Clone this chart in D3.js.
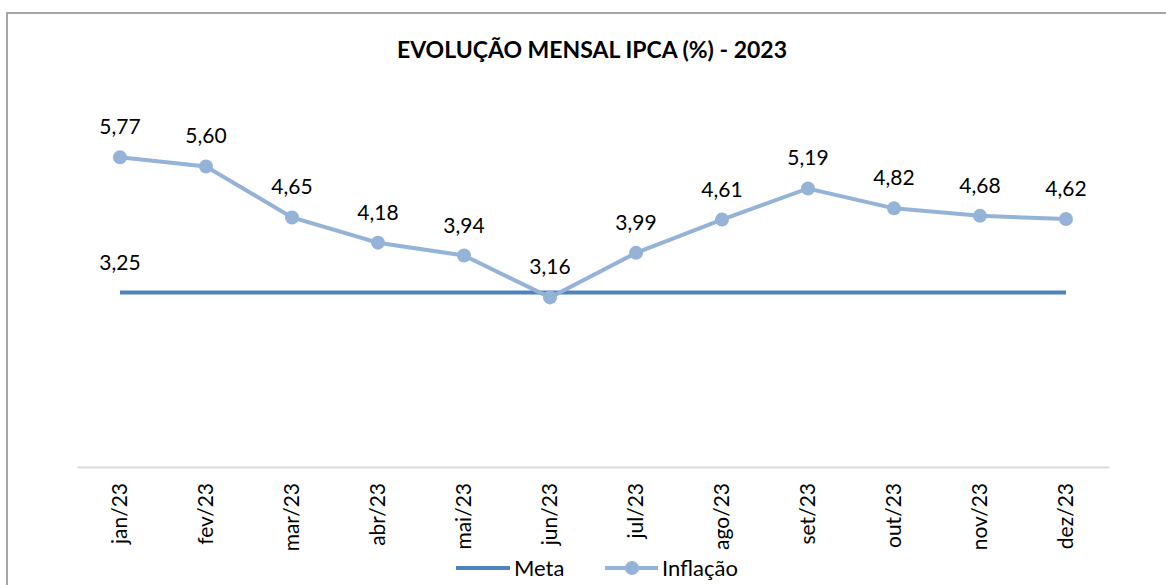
<!DOCTYPE html>
<html>
<head>
<meta charset="utf-8">
<script src="https://cdn.jsdelivr.net/npm/d3@7/dist/d3.min.js"></script>
<style>
  body { margin: 0; background: #fff; }
  svg { display: block; font-family: Lato, "Open Sans", sans-serif; }
</style>
</head>
<body>
<div id="chart"></div>
<script>
// dados
const meses = ["jan/23", "fev/23", "mar/23", "abr/23", "mai/23", "jun/23",
               "jul/23", "ago/23", "set/23", "out/23", "nov/23", "dez/23"];
const inflacao = [5.77, 5.60, 4.65, 4.18, 3.94, 3.16, 3.99, 4.61, 5.19, 4.82, 4.68, 4.62];
const meta = [3.25, 3.25, 3.25, 3.25, 3.25, 3.25, 3.25, 3.25, 3.25, 3.25, 3.25, 3.25];

const width = 1166, height = 585;
const fmt = v => d3.format(".2f")(v).replace(".", ",");

const svg = d3.select("#chart").append("svg")
    .attr("width", width)
    .attr("height", height);

// moldura
svg.append("rect")
    .attr("x", 7).attr("y", 13)
    .attr("width", 1170).attr("height", 600)
    .attr("fill", "#fff")
    .attr("stroke", "#a6a6a6")
    .attr("stroke-width", 2);

svg.append("text")
    .attr("x", 592).attr("y", 58)
    .attr("text-anchor", "middle")
    .attr("font-weight", "bold")
    .attr("font-size", 23)
    .text("EVOLUÇÃO MENSAL IPCA (%) - 2023");

// escalas
const x = d3.scaleBand().domain(meses).range([77, 1109]);
const y = d3.scaleLinear().domain([0, 6]).range([467, 145]);
const cx = d => x(d) + x.bandwidth() / 2;

// eixo x
const ax = svg.append("g")
    .attr("transform", `translate(0,${y(0)})`)
    .call(d3.axisBottom(x).tickSize(0).tickPadding(0));
ax.select(".domain").attr("stroke", "#d9d9d9").attr("stroke-width", 2);
ax.selectAll(".tick text")
    .attr("font-family", "Lato, 'Open Sans', sans-serif")
    .attr("font-size", 21)
    .attr("fill", "#000")
    .attr("transform", "rotate(-90)")
    .attr("text-anchor", "end")
    .attr("x", -16)
    .attr("y", 0)
    .attr("dy", "0.35em");

// meta
const linha = d3.line().x((d, i) => cx(meses[i])).y(d => y(d));
svg.append("path")
    .datum(meta)
    .attr("d", linha)
    .attr("fill", "none")
    .attr("stroke", "#4f81bd")
    .attr("stroke-width", 4);

svg.append("text")
    .attr("x", cx(meses[0])).attr("y", y(meta[0]) - 23)
    .attr("text-anchor", "middle")
    .attr("font-size", 21)
    .text(fmt(meta[0]));

// inflação
svg.append("path")
    .datum(inflacao)
    .attr("d", linha)
    .attr("fill", "none")
    .attr("stroke", "#95b3d7")
    .attr("stroke-width", 4);

svg.selectAll(".pt")
    .data(inflacao)
    .join("circle")
    .attr("class", "pt")
    .attr("cx", (d, i) => cx(meses[i]))
    .attr("cy", d => y(d))
    .attr("r", 7)
    .attr("fill", "#95b3d7");

svg.selectAll(".rot")
    .data(inflacao)
    .join("text")
    .attr("class", "rot")
    .attr("x", (d, i) => cx(meses[i]))
    .attr("y", d => y(d) - 23)
    .attr("text-anchor", "middle")
    .attr("font-size", 21)
    .text(d => fmt(d));

// legenda
const leg = svg.append("g").attr("transform", "translate(0,568)");
leg.append("line")
    .attr("x1", 456).attr("x2", 510)
    .attr("stroke", "#4f81bd").attr("stroke-width", 4);
leg.append("text")
    .attr("x", 514).attr("dy", "0.35em")
    .attr("font-size", 22)
    .text("Meta");
leg.append("line")
    .attr("x1", 605).attr("x2", 658)
    .attr("stroke", "#95b3d7").attr("stroke-width", 4);
leg.append("circle")
    .attr("cx", 632).attr("r", 7)
    .attr("fill", "#95b3d7");
leg.append("text")
    .attr("x", 662).attr("dy", "0.35em")
    .attr("font-size", 22)
    .text("Inflação");
</script>
</body>
</html>
